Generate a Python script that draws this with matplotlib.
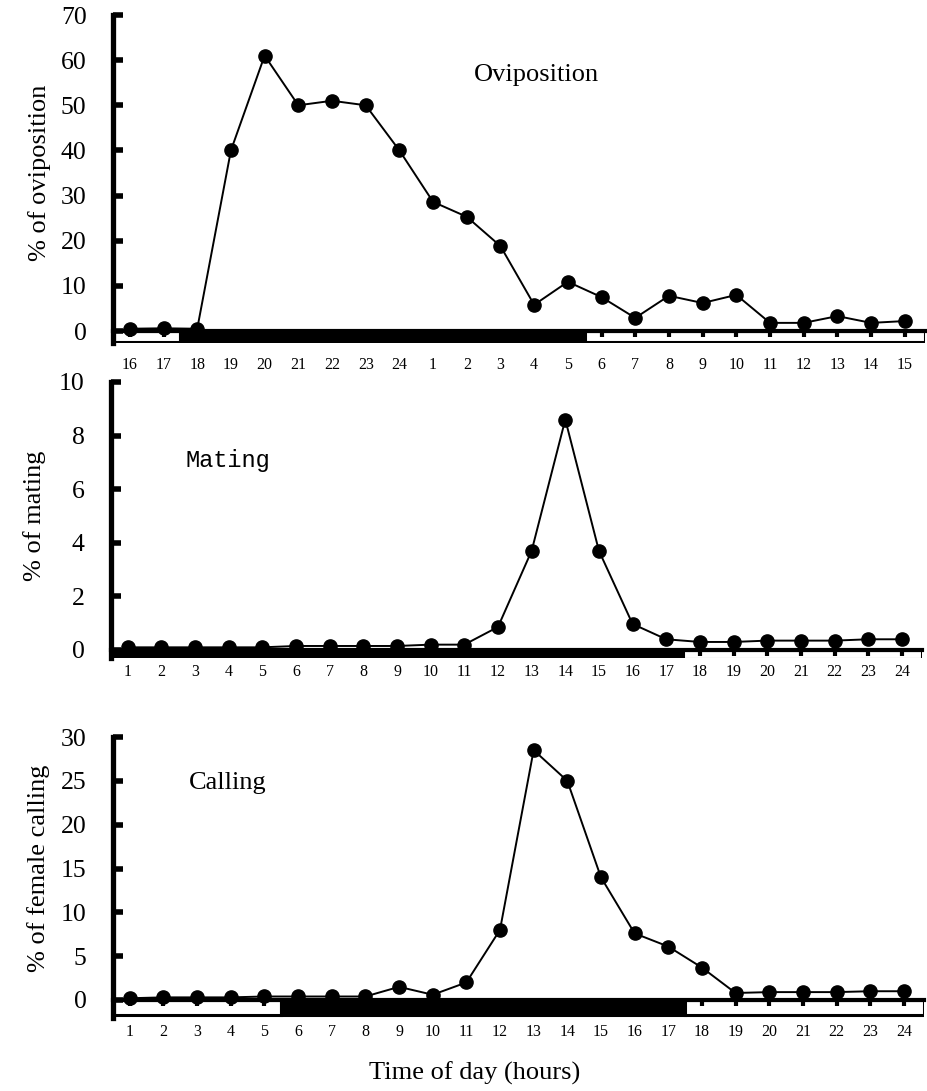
import numpy as np
import matplotlib
matplotlib.use("Agg")
import matplotlib.pyplot as plt
from matplotlib.patches import Rectangle

plt.rcParams['font.family'] = ['Liberation Serif', 'DejaVu Serif']

# Oviposition, hours 16 .. 15 of the next day
ovi_hours = [16, 17, 18, 19, 20, 21, 22, 23, 24, 1, 2, 3, 4, 5, 6, 7, 8, 9, 10, 11, 12, 13, 14, 15]
ovi_pct = [0.5, 0.6, 0.5, 40, 61, 50, 51, 50, 40, 28.6, 25.3, 18.8, 5.8, 10.9, 7.5, 2.9,
           7.8, 6.2, 8.0, 1.8, 1.8, 3.3, 1.8, 2.2]
ovi_dark = [18, 19, 20, 21, 22, 23, 24, 1, 2, 3, 4, 5]

# Mating, hours 1 .. 24
mat_hours = list(range(1, 25))
mat_pct = [0.1, 0.1, 0.1, 0.1, 0.1, 0.15, 0.15, 0.15, 0.15, 0.2, 0.2, 0.86, 3.7, 8.6, 3.7,
           0.97, 0.4, 0.3, 0.3, 0.35, 0.35, 0.35, 0.4, 0.4]
mat_dark = list(range(1, 18))

# Female calling, hours 1 .. 24
cal_hours = list(range(1, 25))
cal_pct = [0.2, 0.3, 0.3, 0.3, 0.4, 0.4, 0.4, 0.4, 1.5, 0.6, 2.0, 8.0, 28.5, 25.0, 14.0,
           7.6, 6.1, 3.7, 0.8, 0.9, 0.9, 0.9, 1.0, 1.0]
cal_dark = list(range(6, 18))

W, H = 928, 1091
fig = plt.figure(figsize=(W / 100, H / 100), dpi=100)


def panel(hours, values, dark, left, right, top, bottom, zero_px, ymax, ystep,
          bar_px, label_gap, ylabel, ylabel_x, title, title_xy, title_kw):
    ax = fig.add_axes([left / W, 1 - bottom / H, (right - left) / W, (bottom - top) / H])
    scale = (zero_px - top) / ymax
    ax.set_ylim(-(bottom - zero_px) / scale, ymax)
    x = np.arange(len(hours))
    ax.set_xlim(-0.5, len(hours) - 0.4)

    # light / dark bar under the time axis
    bar_h = bar_px / scale
    is_dark = [h in dark for h in hours]
    start = 0
    for i in range(1, len(hours) + 1):
        if i == len(hours) or is_dark[i] != is_dark[start]:
            end = i if i < len(hours) else len(hours) + 0.1
            fc = 'black' if is_dark[start] else 'white'
            ax.add_patch(Rectangle((start - 0.5, -bar_h), end - start, bar_h,
                                   facecolor=fc, edgecolor='black', lw=2.2, zorder=1))
            start = i

    ax.plot(x, values, color='black', lw=1.4, marker='o', markersize=9.5,
            markerfacecolor='black', markeredgecolor='black', zorder=3, clip_on=False)

    for s in ['top', 'right']:
        ax.spines[s].set_visible(False)
    ax.spines['left'].set_linewidth(3.8)
    ax.spines['bottom'].set_position(('data', 0))
    ax.spines['bottom'].set_linewidth(3.0)
    ax.spines['bottom'].set_zorder(2)

    ax.set_yticks(np.arange(0, ymax + 0.01, ystep))
    ax.tick_params(axis='y', direction='in', length=7, width=4, labelsize=18.5, pad=19)
    ax.set_xticks(x)
    ax.set_xticklabels([str(h) for h in hours])
    ax.tick_params(axis='x', direction='out', length=4, width=3, labelsize=11.5,
                   pad=(label_gap - 10) * 0.72)

    fig.text(ylabel_x / W, 1 - ((top + zero_px) / 2) / H, ylabel, rotation=90,
             ha='center', va='center', fontsize=19)
    fig.text(title_xy[0] / W, 1 - title_xy[1] / H, title, ha='center', va='center', **title_kw)
    return ax


panel(ovi_hours, ovi_pct, ovi_dark, 113, 925, 15, 343, 331, 70, 10, 11, 30,
      '% of oviposition', 40, 'Oviposition', (536, 75), dict(fontsize=19))
panel(mat_hours, mat_pct, mat_dark, 111, 922, 382, 658, 650, 10, 2, 9, 18,
      '% of mating', 35, 'Mating', (228, 460),
      dict(fontsize=17, family=['Liberation Mono', 'DejaVu Sans Mono']))
panel(cal_hours, cal_pct, cal_dark, 113, 924, 737, 1018, 1000, 30, 5, 15, 28,
      '% of female calling', 39, 'Calling', (228, 783), dict(fontsize=19))

fig.text(475 / W, 1 - 1073 / H, 'Time of day (hours)', ha='center', va='center', fontsize=19)

fig.savefig('out.png', dpi=100, facecolor='white')
